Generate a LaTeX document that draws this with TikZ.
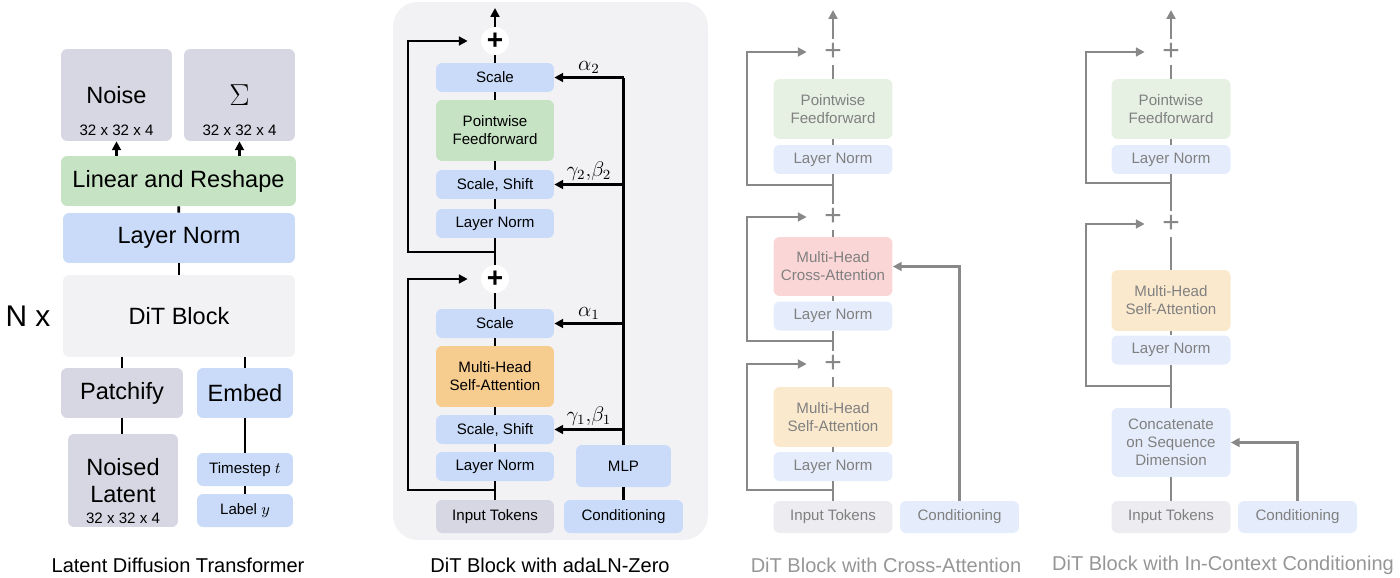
\documentclass[tikz,border=0pt]{standalone}
\usepackage{fontspec}
\setmainfont{Liberation Sans}
\usetikzlibrary{arrows.meta}

% box colours
\definecolor{dgray}{RGB}{214,215,226}
\definecolor{dblue}{RGB}{201,219,249}
\definecolor{dgreen}{RGB}{198,227,196}
\definecolor{dorange}{RGB}{247,204,143}
\definecolor{dbg}{RGB}{242,242,245}
% faded colours
\definecolor{fgray}{RGB}{236,236,241}
\definecolor{fblue}{RGB}{229,237,252}
\definecolor{fgreen}{RGB}{230,241,228}
\definecolor{fred}{RGB}{251,214,214}
\definecolor{forange}{RGB}{251,233,206}
\definecolor{fline}{RGB}{136,136,136}
\definecolor{ftext}{RGB}{128,128,128}
\definecolor{fcap}{RGB}{150,150,150}

\newcommand{\bigsz}{\fontsize{13.4}{15.4}\selectfont}
\newcommand{\smsz}{\fontsize{8.6}{10.2}\selectfont}
\newcommand{\capsz}{\fontsize{11.4}{13}\selectfont}

\tikzset{
  box/.style={rounded corners=3.5pt, inner sep=0pt, align=center},
  bigbox/.style={box, font=\bigsz},
  smbox/.style={box, font=\smsz, minimum width=2.36cm, minimum height=0.58cm},
  conn/.style={line width=1.6pt},
  arr/.style={conn, -{Triangle[length=5pt,width=5pt]}},
  gconn/.style={conn, fline},
  garr/.style={arr, fline},
  plus/.style={circle, fill=white, minimum size=0.56cm, inner sep=0pt, font=\fontsize{16}{17}\selectfont\bfseries},
  gplus/.style={circle, fill=white, minimum size=0.52cm, inner sep=0pt, font=\fontsize{17}{18}\selectfont, text=fline},
  capt/.style={font=\capsz},
  coef/.style={font=\fontsize{11.5}{12}\selectfont, inner sep=1.5pt}
}

\begin{document}
\begin{tikzpicture}[x=0.02cm, y=-0.02cm]
  \useasboundingbox (0,0) rectangle (1400,578);

  % ---------------- Latent Diffusion Transformer ----------------
  \node[bigbox, fill=dgray, minimum width=2.22cm, minimum height=1.84cm] (noise) at (116.5,95) {Noise};
  \node[font=\smsz] (noisedim) at (116.5,130) {32 x 32 x 4};
  \node[bigbox, fill=dgray, minimum width=2.22cm, minimum height=1.84cm] (sigma) at (239.5,95) {};
  \node[font=\fontsize{18}{19}\selectfont] (sigmat) at (239.5,95) {$\Sigma$};
  \node[font=\smsz] (sigmadim) at (239.5,130) {32 x 32 x 4};
  \node[bigbox, fill=dgreen, minimum width=4.70cm, minimum height=1.0cm] (lin) at (178.5,181) {Linear and Reshape};
  \node[bigbox, fill=dblue, minimum width=4.64cm, minimum height=1.0cm] (lnf) at (179,238) {Layer Norm};
  \node[bigbox, fill=dbg, minimum width=4.64cm, minimum height=1.64cm] (dit) at (179,316) {DiT Block};
  \node[font=\fontsize{17}{19}\selectfont] (nx) at (28,316) {N x};
  \node[bigbox, fill=dgray, minimum width=2.44cm, minimum height=1.0cm] (patch) at (122,393) {Patchify};
  \node[bigbox, fill=dblue, minimum width=1.92cm, minimum height=1.0cm] (embed) at (245,393) {Embed};
  \node[bigbox, fill=dgray, minimum width=2.2cm, minimum height=1.86cm] (latent) at (123,480.5) {};
  \node[font=\bigsz, align=center] (latentt) at (123,480.5) {Noised\\Latent};
  \node[font=\smsz] (latentdim) at (123,518) {32 x 32 x 4};
  \node[box, font=\smsz, fill=dblue, minimum width=1.92cm, minimum height=0.66cm] (tstep) at (245,469.5) {Timestep $t$};
  \node[box, font=\smsz, fill=dblue, minimum width=1.92cm, minimum height=0.66cm] (label) at (245,510.5) {Label $y$};

  \draw[arr] (noise |- lin.north) -- (noise.south);
  \draw[arr] (sigma |- lin.north) -- (sigma.south);
  \draw[conn] (lin) -- (lnf);
  \draw[conn] (lnf) -- (dit);
  \draw[conn] (patch) -- (patch |- dit.south);
  \draw[conn] (embed) -- (embed |- dit.south);
  \draw[conn] (patch) -- (patch |- latent.north);
  \draw[conn] (embed) -- (tstep);
  \draw[conn] (tstep) -- (label);

  \node[capt] (cap1) at (178,565) {Latent Diffusion Transformer};

  % ---------------- DiT Block with adaLN-Zero ----------------
  \fill[dbg, rounded corners=14pt] (393,2) rectangle (708,540);

  \node[smbox, fill=dblue] (sc2) at (495,77.5) {Scale};
  \node[smbox, fill=dgreen, minimum height=1.22cm] (ff) at (495,130.5) {Pointwise\\Feedforward};
  \node[smbox, fill=dblue] (ss2) at (495,184.5) {Scale, Shift};
  \node[smbox, fill=dblue] (ln2) at (495,223.5) {Layer Norm};
  \node[smbox, fill=dblue] (sc1) at (495,323.5) {Scale};
  \node[smbox, fill=dorange, minimum height=1.22cm] (msa) at (495,376.5) {Multi-Head\\Self-Attention};
  \node[smbox, fill=dblue] (ss1) at (495,429.5) {Scale, Shift};
  \node[smbox, fill=dblue] (ln1) at (495,466.5) {Layer Norm};
  \node[smbox, fill=dgray, minimum height=0.66cm] (tok) at (495,516.5) {Input Tokens};
  \node[smbox, fill=dblue, minimum width=1.9cm, minimum height=0.84cm] (mlp) at (623.5,466) {MLP};
  \node[smbox, fill=dblue, minimum width=2.38cm, minimum height=0.66cm] (cond) at (623.5,516.5) {Conditioning};
  \coordinate (j1) at (495,490);
  \coordinate (j2) at (495,252);
  \coordinate (top) at (495,8);

  \foreach \a/\b in {tok/ln1, ln1/ss1, ss1/msa, msa/sc1, ln2/ss2, ss2/ff, ff/sc2}
    \draw[conn] (\a) -- (\b);
  \draw[conn] (sc1) -- (495,279);
  \draw[conn] (495,279) -- (ln2);
  \draw[conn] (sc2) -- (495,41);
  \node[plus] (p1) at (495,41) {+};
  \node[plus] (p2) at (495,279) {+};
  \draw[arr] (p1.north) -- (top);
  % residual paths
  \draw[arr, shorten >=0.26cm] (j1) -- (408,490) |- (p2.west);
  \draw[arr, shorten >=0.26cm] (j2) -- (408,252) |- (p1.west);
  % conditioning paths
  \draw[conn] (cond) -- (mlp);
  \draw[conn] (mlp.north) -- (mlp.north |- sc2.east);
  \draw[arr] (mlp.north |- ss1.east) -- node[coef, above] {$\gamma_1,\!\beta_1$} (ss1.east);
  \draw[arr] (mlp.north |- sc1.east) -- node[coef, above] {$\alpha_1$} (sc1.east);
  \draw[arr] (mlp.north |- ss2.east) -- node[coef, above] {$\gamma_2,\!\beta_2$} (ss2.east);
  \draw[arr] (mlp.north |- sc2.east) -- node[coef, above] {$\alpha_2$} (sc2.east);

  \node[capt] (cap2) at (550,565) {DiT Block with adaLN-Zero};

  % ---------------- DiT Block with Cross-Attention ----------------
  \begin{scope}[every node/.append style={text=ftext}]
  \node[smbox, fill=fgreen, minimum width=2.38cm, minimum height=1.2cm] (cff) at (833,109) {Pointwise\\Feedforward};
  \node[smbox, fill=fblue, minimum width=2.38cm] (cln3) at (833,159.5) {Layer Norm};
  \node[smbox, fill=fred, minimum width=2.38cm, minimum height=1.18cm] (cca) at (833,266.5) {Multi-Head\\Cross-Attention};
  \node[smbox, fill=fblue, minimum width=2.38cm] (cln2) at (833,316) {Layer Norm};
  \node[smbox, fill=forange, minimum width=2.38cm, minimum height=1.2cm] (csa) at (833,417) {Multi-Head\\Self-Attention};
  \node[smbox, fill=fblue, minimum width=2.38cm] (cln1) at (833,466.5) {Layer Norm};
  \node[smbox, fill=fgray, minimum width=2.38cm, minimum height=0.64cm] (ctok) at (833,517) {Input Tokens};
  \node[smbox, fill=fblue, minimum width=2.38cm, minimum height=0.64cm] (ccond) at (959.5,517) {Conditioning};
  \end{scope}
  \coordinate (cj1) at (833,490);
  \coordinate (cj2) at (833,341);
  \coordinate (cj3) at (833,185);
  \coordinate (ctop) at (833,10);

  \foreach \a/\b in {ctok/cln1, cln1/csa, cln2/cca, cln3/cff}
    \draw[gconn] (\a) -- (\b);
  \draw[gconn] (csa) -- (833,364) -- (cln2);
  \draw[gconn] (cca) -- (833,217) -- (cln3);
  \draw[gconn] (cff) -- (833,52);
  \node[gplus] (cp1) at (833,52) {+};
  \node[gplus] (cp2) at (833,217) {+};
  \node[gplus] (cp3) at (833,364) {+};
  \draw[garr] (cp1.north) -- (ctop);
  % residual paths
  \draw[garr, shorten >=0.26cm] (cj1) -- (747,490) |- (cp3.west);
  \draw[garr, shorten >=0.26cm] (cj2) -- (747,341) |- (cp2.west);
  \draw[garr, shorten >=0.26cm] (cj3) -- (747,185) |- (cp1.west);
  % conditioning path
  \draw[garr] (ccond.north) |- (cca.east);

  \node[capt, text=fcap] (cap3) at (886,565) {DiT Block with Cross-Attention};

  % ---------------- DiT Block with In-Context Conditioning ----------------
  \begin{scope}[every node/.append style={text=ftext}]
  \node[smbox, fill=fgreen, minimum width=2.38cm, minimum height=1.2cm] (iff) at (1171,109) {Pointwise\\Feedforward};
  \node[smbox, fill=fblue, minimum width=2.38cm] (iln2) at (1171,159.5) {Layer Norm};
  \node[smbox, fill=forange, minimum width=2.38cm, minimum height=1.22cm] (isa) at (1171,300.5) {Multi-Head\\Self-Attention};
  \node[smbox, fill=fblue, minimum width=2.38cm] (iln1) at (1171,350) {Layer Norm};
  \node[smbox, fill=fblue, minimum width=2.38cm, minimum height=1.38cm] (icat) at (1171,442.5) {Concatenate\\on Sequence\\Dimension};
  \node[smbox, fill=fgray, minimum width=2.38cm, minimum height=0.64cm] (itok) at (1171,517) {Input Tokens};
  \node[smbox, fill=fblue, minimum width=2.38cm, minimum height=0.64cm] (icond) at (1297.5,517) {Conditioning};
  \end{scope}
  \coordinate (ij1) at (1171,386);
  \coordinate (ij2) at (1171,183);
  \coordinate (itop) at (1171,10);

  \foreach \a/\b in {itok/icat, icat/iln1, iln1/isa, iln2/iff}
    \draw[gconn] (\a) -- (\b);
  \draw[gconn] (isa) -- (1171,224) -- (iln2);
  \draw[gconn] (iff) -- (1171,52);
  \node[gplus] (ip1) at (1171,52) {+};
  \node[gplus] (ip2) at (1171,224) {+};
  \draw[garr] (ip1.north) -- (itop);
  % residual paths
  \draw[garr, shorten >=0.26cm] (ij1) -- (1086,386) |- (ip2.west);
  \draw[garr, shorten >=0.26cm] (ij2) -- (1086,183) |- (ip1.west);
  % conditioning path
  \draw[garr] (icond.north) |- (icat.east);

  \node[capt, text=fcap] (cap4) at (1223,565) {DiT Block with In-Context Conditioning};
\end{tikzpicture}
\end{document}
